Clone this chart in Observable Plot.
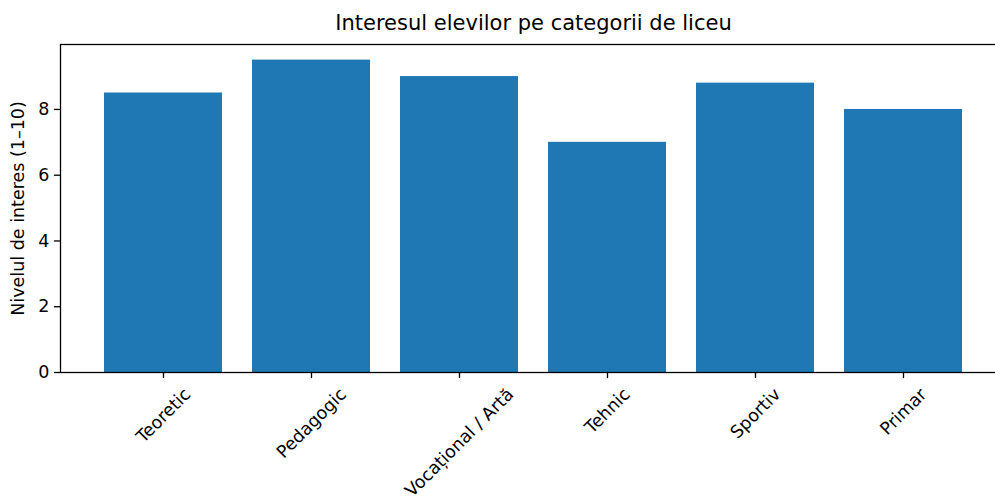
<!DOCTYPE html>
<html>
<head>
<meta charset="utf-8">
<script src="https://cdn.jsdelivr.net/npm/d3@7"></script>
<script src="https://cdn.jsdelivr.net/npm/@observablehq/plot@0.6"></script>
<style>
  body { margin: 0; background: white; }
  #chart svg { display: block; }
</style>
</head>
<body>
<div id="chart"></div>
<script>
const categories = ["Teoretic", "Pedagogic", "Vocațional / Artă", "Tehnic", "Sportiv", "Primar"];
const values = [8.5, 9.5, 9.0, 7.0, 8.8, 8.0];
const yTicks = [0, 2, 4, 6, 8];
const title = "Interesul elevilor pe categorii de liceu";
const yLabel = "Nivelul de interes (1–10)";

const data = categories.map((c, i) => ({cat: c, val: values[i]}));

const font = "DejaVu Sans, sans-serif";
const tickFontPx = 17.5;

// measure label widths for matplotlib-like rotated label placement
const ctx = document.createElement("canvas").getContext("2d");
ctx.font = `${tickFontPx}px "DejaVu Sans"`;
const lineH = 20;
const labelMarks = categories.map(c => {
  const w = ctx.measureText(c).width;
  const half = (w + lineH) / (2 * Math.SQRT2);
  return Plot.text([c], {
    x: d => d,
    frameAnchor: "bottom",
    dy: 12 + half,
    rotate: -45,
    textAnchor: "middle",
    lineAnchor: "middle",
    fontSize: tickFontPx,
    fill: "black"
  });
});

const chart = Plot.plot({
  width: 995,
  height: 502,
  marginLeft: 60,
  marginRight: -11,
  marginTop: 44,
  marginBottom: 130,
  style: {fontFamily: font, background: "white", color: "black"},
  x: {domain: categories, paddingInner: 0.2, paddingOuter: 0.29, align: 0.5, axis: null},
  y: {domain: [0, 9.975], axis: null},
  marks: [
    Plot.barY(data, {x: "cat", y: "val", fill: "#1f77b4"}),
    Plot.frame({stroke: "black", strokeWidth: 1.3}),
    Plot.axisY({ticks: yTicks, tickSize: 6.1, tickPadding: 5, fontSize: tickFontPx, label: null, strokeWidth: 1.3}),
    Plot.axisX({tickSize: 6.1, tickFormat: () => "", label: null, strokeWidth: 1.3}),
    ...labelMarks,
    Plot.text([yLabel], {frameAnchor: "left", dx: -42, rotate: -90, fontSize: tickFontPx, fill: "black", textAnchor: "middle", lineAnchor: "middle"}),
    Plot.text([title], {frameAnchor: "top", dy: -21, fontSize: 21, fill: "black", textAnchor: "middle", lineAnchor: "middle"})
  ]
});
document.getElementById("chart").appendChild(chart);
</script>
</body>
</html>
